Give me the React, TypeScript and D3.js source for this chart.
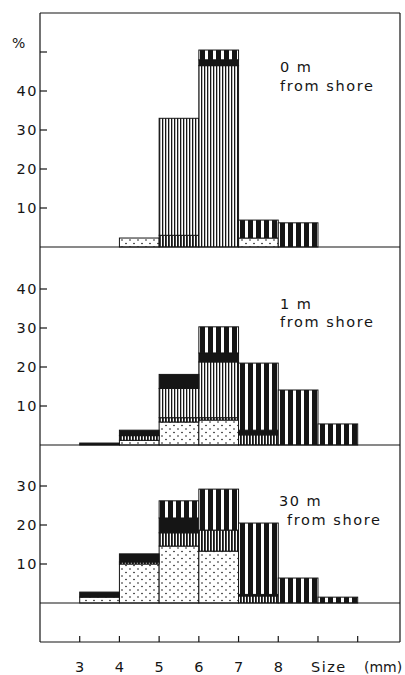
import React from "react";
import * as d3 from "d3";

// size classes (lower bound, mm) — each bar spans class .. class+1
const sizeClasses = [3, 4, 5, 6, 7, 8, 9];
const xTickLabels = [3, 4, 5, 6, 7, 8];
const xTickMarks = [3, 4, 5, 6, 7, 8, 9, 10];
const layerKeys = ["dots", "medium", "fine", "solid", "bold"];

// 0 m from shore (% per layer, bottom to top)
const shore0Dots = [0, 2.3, 0, 0, 2.3, 0, 0];
const shore0Medium = [0, 0, 3, 0, 0, 0, 0];
const shore0Fine = [0, 0, 30, 46.5, 0, 0, 0];
const shore0Solid = [0, 0, 0, 1.5, 0, 0, 0];
const shore0Bold = [0, 0, 0, 2.5, 4.6, 6.2, 0];

// 1 m from shore
const shore1Dots = [0, 1.2, 5.9, 6.4, 0, 0, 0];
const shore1Medium = [0, 1.2, 1.1, 0.6, 2.6, 0, 0];
const shore1Fine = [0, 0, 7.5, 14.3, 0, 0, 0];
const shore1Solid = [0.5, 1.4, 3.6, 2.3, 1.2, 0, 0];
const shore1Bold = [0, 0, 0, 6.7, 17.2, 14.1, 5.4];

// 30 m from shore
const shore30Dots = [1.5, 10, 14.6, 13.3, 0, 0, 0];
const shore30Medium = [0, 0.5, 3.4, 5.4, 1.8, 0, 0];
const shore30Fine = [0, 0, 0, 0, 0, 0, 0];
const shore30Solid = [1.3, 2.1, 3.8, 0, 0.4, 0, 0];
const shore30Bold = [0, 0, 4.4, 10.5, 18.3, 6.4, 1.5];

const panelNames = ["0 m", "1 m", "30 m"];
const panelYTicks = [[10, 20, 30, 40], [10, 20, 30, 40], [10, 20, 30]];
const panelNameAt = [45, 35, 25];
const panelSubAt = [40, 30.2, 20];

const panelLayers = [
  [shore0Dots, shore0Medium, shore0Fine, shore0Solid, shore0Bold],
  [shore1Dots, shore1Medium, shore1Fine, shore1Solid, shore1Bold],
  [shore30Dots, shore30Medium, shore30Fine, shore30Solid, shore30Bold],
];

const W = 405;
const H = 675;
const LEFT = 40;
const RIGHT = 400;
const TOP = 13;
const BOTTOM = 642;
const baselines = [247, 445, 603];
const unitPx = 3.9;
const font = "'DejaVu Sans', sans-serif";
const ink = "#151515";

const x = d3.scaleLinear().domain([2, 11]).range([40, 397.4]);

const fills: Record<string, string> = {
  dots: "url(#pDots)",
  medium: "url(#pMedium)",
  fine: "url(#pFine)",
  solid: ink,
  bold: "url(#pBold)",
};

function Panel({ idx }: { idx: number }) {
  const base = baselines[idx];
  const y = d3.scaleLinear().domain([0, 10]).range([base, base - 10 * unitPx]);
  const rows = sizeClasses.map((c, i) => {
    const r: any = { cls: c };
    layerKeys.forEach((k, j) => (r[k] = panelLayers[idx][j][i]));
    return r;
  });
  const series = d3.stack<any>().keys(layerKeys)(rows);
  const ticks = panelYTicks[idx];
  return (
    <g>
      {series.map((s) =>
        s.map((d, i) =>
          d[1] - d[0] > 0.05 ? (
            <rect
              key={s.key + i}
              x={x(d.data.cls)}
              width={x(d.data.cls + 1) - x(d.data.cls)}
              y={y(d[1])}
              height={y(d[0]) - y(d[1])}
              fill={fills[s.key]}
              stroke={ink}
              strokeWidth={1}
            />
          ) : null
        )
      )}
      {ticks.map((t) => (
        <g key={t}>
          <line x1={LEFT} x2={LEFT + 7} y1={y(t)} y2={y(t)} stroke={ink} strokeWidth={1.2} />
          <text
            x={LEFT - 2}
            y={y(t)}
            dy="0.36em"
            textAnchor="end"
            fontFamily={font}
            fontSize={14.5}
            letterSpacing={1.5}
            fill={ink}
          >
            {t}
          </text>
        </g>
      ))}
      {idx === 0 && (
        <>
          <line x1={LEFT} x2={LEFT + 7} y1={y(50)} y2={y(50)} stroke={ink} strokeWidth={1.2} />
          <text x={12} y={48} fontFamily={font} fontSize={14} fill={ink}>
            %
          </text>
        </>
      )}
      <text
        x={idx === 2 ? 279 : 280}
        y={y(panelNameAt[idx])}
        fontFamily={font}
        fontSize={14.5}
        letterSpacing={1.5}
        fill={ink}
      >
        {panelNames[idx]}
      </text>
      <text
        x={idx === 2 ? 287 : 280}
        y={y(panelSubAt[idx])}
        fontFamily={font}
        fontSize={14.5}
        letterSpacing={1.6}
        fill={ink}
      >
        from shore
      </text>
      <line x1={LEFT} x2={RIGHT} y1={base} y2={base} stroke={ink} strokeWidth={1.2} />
    </g>
  );
}

export default function App() {
  return (
    <svg
      width={W}
      height={H}
      style={{ position: "absolute", left: 0, top: 0, background: "#fff" }}
    >
      <defs>
        <pattern id="pDots" patternUnits="userSpaceOnUse" width={8} height={7}>
          <rect width={8} height={7} fill="#fff" />
          <circle cx={2} cy={2} r={0.8} fill={ink} />
          <circle cx={6} cy={5.5} r={0.8} fill={ink} />
        </pattern>
        <pattern id="pMedium" patternUnits="userSpaceOnUse" width={3} height={4}>
          <rect width={3} height={4} fill="#fff" />
          <rect x={0} width={1.8} height={4} fill={ink} />
        </pattern>
        <pattern id="pFine" patternUnits="userSpaceOnUse" width={3} height={4}>
          <rect width={3} height={4} fill="#fff" />
          <rect x={0} width={1.3} height={4} fill={ink} />
        </pattern>
        <pattern id="pBold" patternUnits="userSpaceOnUse" width={8} height={4}>
          <rect width={8} height={4} fill="#fff" />
          <rect x={0} width={5} height={4} fill={ink} />
        </pattern>
      </defs>
      {/* frame */}
      <line x1={LEFT} x2={RIGHT} y1={TOP} y2={TOP} stroke={ink} strokeWidth={1.2} />
      <line x1={LEFT} x2={LEFT} y1={TOP} y2={BOTTOM} stroke={ink} strokeWidth={1.2} />
      <line x1={RIGHT} x2={RIGHT} y1={TOP} y2={BOTTOM} stroke={ink} strokeWidth={1.2} />
      <line x1={LEFT} x2={RIGHT} y1={BOTTOM} y2={BOTTOM} stroke={ink} strokeWidth={1.2} />
      {[0, 1, 2].map((i) => (
        <Panel key={i} idx={i} />
      ))}
      {xTickMarks.map((t) => (
        <line key={t} x1={x(t)} x2={x(t)} y1={BOTTOM} y2={BOTTOM - 6} stroke={ink} strokeWidth={1.2} />
      ))}
      {xTickLabels.map((t) => (
        <text
          key={t}
          x={x(t)}
          y={672}
          textAnchor="middle"
          fontFamily={font}
          fontSize={14.5}
          fill={ink}
        >
          {t}
        </text>
      ))}
      <text x={311} y={672} fontFamily={font} fontSize={14.5} letterSpacing={1.5} fill={ink}>
        Size
      </text>
      <text x={364} y={672} fontFamily={font} fontSize={14} fill={ink}>
        (mm)
      </text>
    </svg>
  );
}
